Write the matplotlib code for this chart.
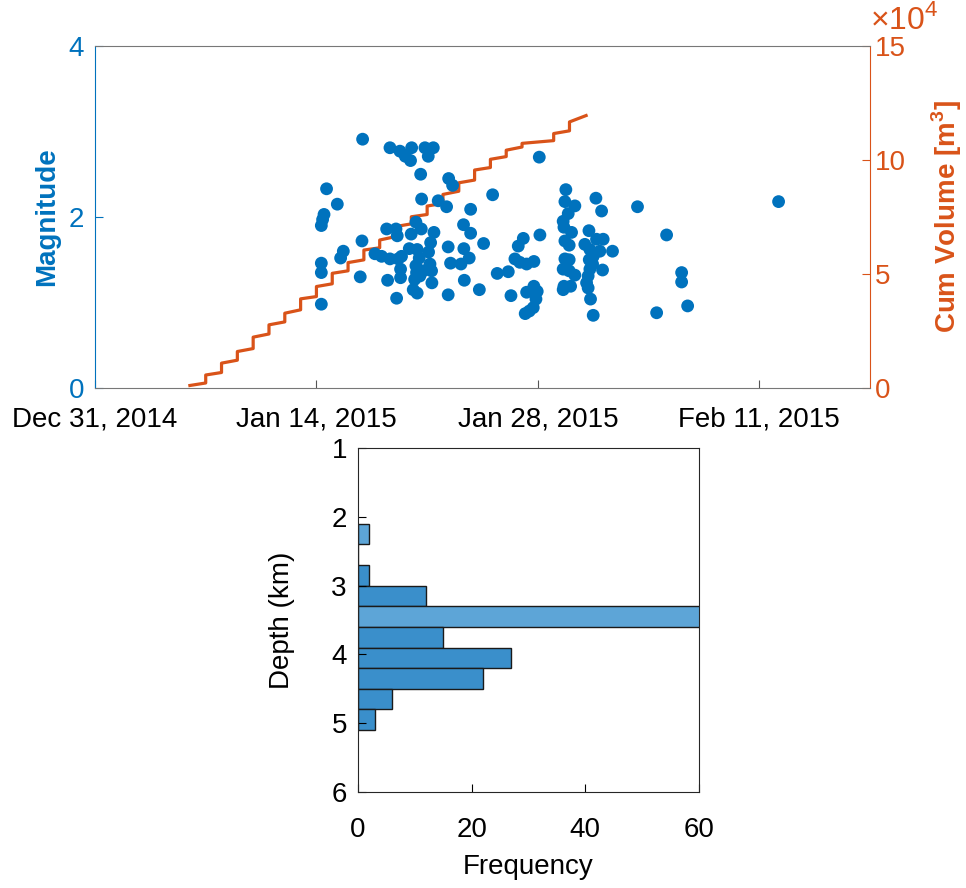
import numpy as np
import matplotlib
matplotlib.use('Agg')
import matplotlib.pyplot as plt
import matplotlib.dates as mdates
from datetime import datetime

plt.rcParams['font.family'] = ['Liberation Sans', 'DejaVu Sans']
plt.rcParams['mathtext.fontset'] = 'custom'
plt.rcParams['mathtext.rm'] = 'Liberation Sans'
plt.rcParams['mathtext.bf'] = 'Liberation Sans:bold'

blue = '#0072BD'
orange = '#D95319'

# event times, in days after 2014-12-31, and magnitudes
ev_day = [14.64, 15.32, 14.48, 14.39, 14.31, 14.31, 14.31, 14.31, 15.70, 15.53,
          16.92, 16.88, 16.77, 17.70, 18.12, 18.65, 19.17, 19.38, 18.44, 19.03,
          19.11, 19.32, 19.32, 18.50, 19.07, 18.65, 19.28, 19.62, 20.02, 19.95,
          20.86, 21.39, 21.07, 20.59, 20.65, 20.29, 20.63, 19.99, 21.43, 21.22,
          19.87, 20.37, 21.09, 20.50, 20.29, 21.18, 21.28, 20.33, 20.54, 20.21,
          20.76, 21.30, 20.12, 20.37, 22.36, 22.61, 21.70, 22.23, 23.75, 23.30,
          23.75, 22.33, 23.32, 23.66, 22.48, 23.14, 23.35, 22.33, 24.30, 24.57,
          25.14, 25.43, 26.13, 26.30, 27.08, 26.76, 26.55, 26.86, 27.29, 27.75,
          28.09, 28.13, 27.75, 27.96, 27.29, 27.88, 27.71, 27.46, 27.20,
          29.77, 29.71, 30.34, 29.92, 29.60, 29.65, 30.13, 29.71, 29.98, 29.71,
          29.98, 29.60, 29.98, 30.34, 29.65, 30.07, 29.60,
          31.67, 32.03, 31.23, 30.97, 31.29, 31.71, 32.13, 32.72, 31.92, 31.50,
          31.25, 31.46, 31.29, 32.09, 31.18, 31.08, 31.18, 31.33, 31.50, 34.30,
          43.22, 36.14, 37.09, 37.09, 37.47, 35.51]
ev_mag = [2.33, 2.15, 2.03, 1.97, 1.90, 1.46, 1.35, 0.98, 1.60, 1.52,
          2.91, 1.72, 1.30, 1.57, 1.54, 1.51, 1.51, 1.54, 1.86, 1.86,
          1.78, 1.39, 1.29, 1.26, 1.05, 2.81, 2.77, 2.71, 2.81, 2.66,
          2.81, 2.81, 2.71, 2.50, 2.21, 1.94, 1.86, 1.80, 1.82, 1.70,
          1.63, 1.62, 1.59, 1.52, 1.43, 1.45, 1.37, 1.35, 1.31, 1.27,
          1.37, 1.23, 1.15, 1.11, 2.45, 2.37, 2.19, 2.12, 2.09, 1.91,
          1.81, 1.65, 1.63, 1.52, 1.46, 1.45, 1.26, 1.09, 1.15, 1.69,
          2.26, 1.34, 1.36, 1.08, 1.75, 1.66, 1.51, 1.47, 1.45, 1.48,
          2.70, 1.79, 1.19, 1.13, 1.12, 1.04, 0.94, 0.90, 0.87,
          2.32, 2.18, 2.13, 2.04, 1.95, 1.88, 1.82, 1.72, 1.67, 1.51,
          1.50, 1.39, 1.37, 1.32, 1.19, 1.19, 1.15,
          2.22, 2.07, 1.84, 1.68, 1.62, 1.74, 1.74, 1.60, 1.60, 1.54,
          1.50, 1.45, 1.39, 1.38, 1.31, 1.23, 1.17, 1.04, 0.85, 2.12,
          2.18, 1.79, 1.35, 1.24, 0.96, 0.88]

# injected volume (x1e4 m^3): each day starts at vol_start and climbs to vol_end
vol_day = [6, 7, 8, 9, 10, 11, 12, 13, 14, 15, 16, 17, 18, 19, 20, 21, 22, 23,
           24, 25, 26, 27, 29, 30, 31.05]
vol_start = [0.11, 0.57, 1.09, 1.60, 2.23, 2.77, 3.28, 3.91, 4.45, 5.03, 5.50,
             6.05, 6.49, 7.08, 7.51, 7.98, 8.49, 9.00, 9.56, 10.03, 10.43,
             10.73, 11.16, 11.67]
vol_end = [0.22, 0.68, 1.22, 1.73, 2.37, 2.90, 3.43, 4.01, 4.57, 5.14, 5.62,
           6.15, 6.64, 7.20, 7.61, 8.10, 8.63, 9.12, 9.67, 10.15, 10.57,
           10.85, 11.28, 11.95]

# depth histogram
depth_edges = [2.1, 2.4, 2.7, 3.0, 3.3, 3.6, 3.9, 4.2, 4.5, 4.8, 5.1]
depth_count = [2, 0, 2, 12, 65, 15, 27, 22, 6, 3]
depth_color = ['#5DA5D7', '#5DA5D7', '#3A8FCB', '#3A8FCB', '#5DA5D7',
               '#3A8FCB', '#3A8FCB', '#3A8FCB', '#3A8FCB', '#3A8FCB']

t0 = mdates.date2num(datetime(2014, 12, 31))

fig = plt.figure(figsize=(9.66, 8.88), dpi=100)
fs = 20

# --- magnitude vs time with cumulative volume
ax = fig.add_axes([95 / 966, 1 - 388 / 888, 775 / 966, 342 / 888])
ax.scatter(t0 + np.array(ev_day), ev_mag, s=85, color=blue, edgecolors='none', zorder=3)
ax.set_ylim(0, 4)
ax.set_yticks([0, 2, 4])
ax.set_xlim(t0, t0 + 49)
ax.set_xticks([t0, t0 + 14, t0 + 28, t0 + 42])
ax.xaxis.set_major_formatter(mdates.DateFormatter('%b %d, %Y'))
ax.tick_params(axis='x', direction='in', labelsize=fs, colors='black', length=6, width=0.8,
               pad=13, color='#555555')
ax.tick_params(axis='y', direction='in', labelsize=fs, colors=blue, length=6, width=0.8,
               pad=8)
ax.set_ylabel('Magnitude', color=blue, fontsize=fs, fontweight='bold', labelpad=6)
for side in ('top', 'bottom'):
    ax.spines[side].set_color('#777777')
ax.spines['left'].set_color(blue)
ax.spines['right'].set_visible(False)

ax2 = ax.twinx()
vx, vy = [], []
for i in range(len(vol_start)):
    vx += [t0 + vol_day[i], t0 + vol_day[i + 1]]
    vy += [vol_start[i], vol_end[i]]
ax2.plot(vx, vy, color=orange, lw=2.3, zorder=2)
ax2.set_ylim(0, 15)
ax2.set_yticks([0, 5, 10, 15])
ax2.tick_params(axis='y', direction='in', labelsize=fs, colors=orange, length=6, width=0.8)
ax2.spines['right'].set_color(orange)
ax2.spines['left'].set_visible(False)
ax2.spines['top'].set_visible(False)
ax2.spines['bottom'].set_visible(False)
ax2.set_ylabel('Cum Volume [m$^\\mathbf{3}$]', color=orange, fontsize=fs, fontweight='bold',
               labelpad=17)
ax2.text(1.0, 1.03, r'$\times10^{4}$', transform=ax2.transAxes, color=orange,
         fontsize=23, ha='left', va='bottom')
ax.set_zorder(ax2.get_zorder() + 1)
ax.patch.set_visible(False)

# --- depth histogram
bx = fig.add_axes([358 / 966, 1 - 792 / 888, 341 / 966, 344 / 888])
bx.barh(depth_edges[:-1], depth_count, height=np.diff(depth_edges), align='edge',
        color=depth_color, edgecolor='#1a1a1a', linewidth=1.0)
bx.set_xlim(0, 60)
bx.set_ylim(6, 1)
bx.set_xticks([0, 20, 40, 60])
bx.set_yticks([1, 2, 3, 4, 5, 6])
bx.tick_params(axis='x', direction='in', labelsize=fs, length=6, width=0.8, pad=18)
bx.tick_params(axis='y', direction='in', labelsize=fs, length=6, width=0.8, pad=8)
bx.set_xlabel('Frequency', fontsize=fs, labelpad=8)
bx.set_ylabel('Depth (km)', fontsize=fs, labelpad=26)
for s in bx.spines.values():
    s.set_color('#262626')

fig.savefig('out.png', dpi=100)
